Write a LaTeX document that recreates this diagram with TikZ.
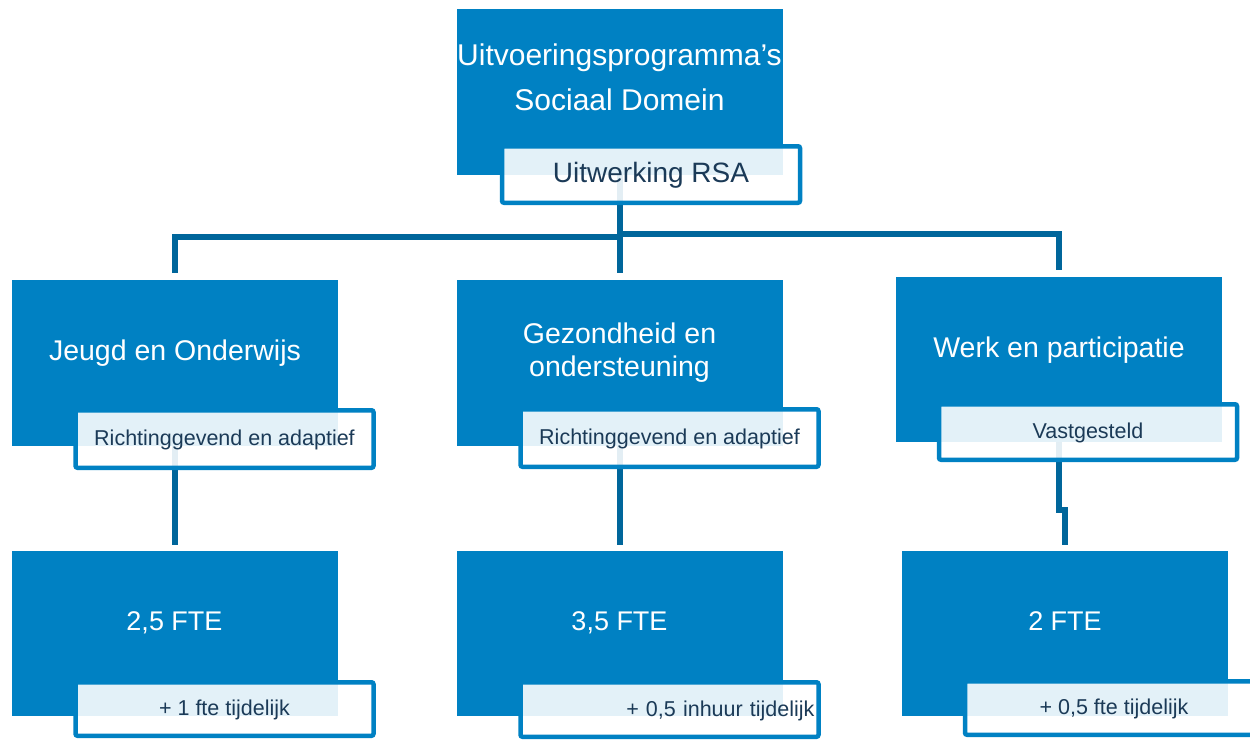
\documentclass[tikz,border=0pt]{standalone}
\usepackage{fontspec}
\setmainfont{Liberation Sans}
\definecolor{boxblue}{HTML}{0081C3}
\definecolor{connblue}{HTML}{00669B}
\definecolor{labtext}{HTML}{1B3A57}
\begin{document}
\begin{tikzpicture}[x=1pt,y=-1pt,
  bluebox/.style={fill=boxblue, draw=none, inner sep=0pt, minimum width=326pt, minimum height=166pt},
  labelbox/.style={draw=boxblue, line width=4.5pt, fill=white, fill opacity=0.89, text opacity=1,
    rounded corners=2pt, inner sep=0pt, minimum width=298pt, text=labtext,
    font=\fontsize{21.5}{24}\selectfont, text height=13pt, text depth=0pt},
  heading/.style={text=white, inner sep=0pt, font=\fontsize{28.5}{33}\selectfont, align=center},
  ftetext/.style={text=white, inner sep=0pt, font=\fontsize{27}{30}\selectfont, anchor=base},
  conn/.style={draw=connblue, line width=6pt}
]
\useasboundingbox (0,0) rectangle (1250,739);

% blue boxes
\node[bluebox] (top)  at (619.5,92) {};
\node[bluebox] (jeu)  at (175,363) {};
\node[bluebox] (gez)  at (619.5,363) {};
\node[bluebox, minimum height=165pt] (werk) at (1059,359.5) {};
\node[bluebox, minimum height=165pt] (fte1) at (175,633.5) {};
\node[bluebox, minimum height=165pt] (fte2) at (619.5,633.5) {};
\node[bluebox, minimum height=165pt] (fte3) at (1065,633.5) {};

% connectors
\coordinate (hl) at (0,237);
\coordinate (hr) at (0,234);
\coordinate (jog) at (0,510);
\draw[conn, shorten >=7pt] (top.south) -- (gez.north);
\draw[conn, shorten >=7pt] (top.south |- hl) -- (jeu.north |- hl) -- (jeu.north);
\draw[conn, shorten >=7pt] (top.south |- hr) -- (werk.north |- hr) -- (werk.north);
\draw[conn, shorten >=6pt] (jeu.south) -- (fte1.north);
\draw[conn, shorten >=6pt] (gez.south) -- (fte2.north);
\draw[conn, shorten >=6pt] (werk.south) -- (werk.south |- jog) -- (fte3.north |- jog) -- (fte3.north);

% label boxes
\node[labelbox, minimum height=56.5pt, font=\fontsize{28}{32}\selectfont, text height=15pt] (ltop) at (651,174.5) {Uitwerking RSA};
\node[labelbox, minimum height=57.5pt] (ljeu) at (224.5,439) {Richtinggevend en adaptief};
\node[labelbox, minimum height=57.5pt] (lgez) at (669.5,438) {Richtinggevend en adaptief};
\node[labelbox, minimum height=55.5pt] (lwerk) at (1088,432) {Vastgesteld};
\node[labelbox, minimum height=53.5pt] (lfte1) at (224.5,709) {+ 1 fte tijdelijk};
\node[labelbox, minimum height=54.5pt, text width=290pt, align=right] (lfte2) at (669.5,709.5) {+ 0,5 inhuur tijdelijk};
\node[labelbox, minimum height=53.5pt] (lfte3) at (1114,708) {+ 0,5 fte tijdelijk};

% heading texts (base = baseline of the last line)
\node[heading, anchor=base, font=\fontsize{30}{33}\selectfont] (ttop) at (619.5,110) {Uitvoeringsprogramma’s\\[12pt]Sociaal Domein};
\node[heading, anchor=base] (tjeu) at (175,360) {Jeugd en Onderwijs};
\node[heading, anchor=base] (tgez) at (619.5,376) {Gezondheid en\\ondersteuning};
\node[heading, anchor=base] (twerk) at (1059,357) {Werk en participatie};
\node[ftetext] (tfte1) at (174.5,630) {2,5 FTE};
\node[ftetext] (tfte2) at (619.5,630) {3,5 FTE};
\node[ftetext] (tfte3) at (1065,630) {2 FTE};
\end{tikzpicture}
\end{document}
